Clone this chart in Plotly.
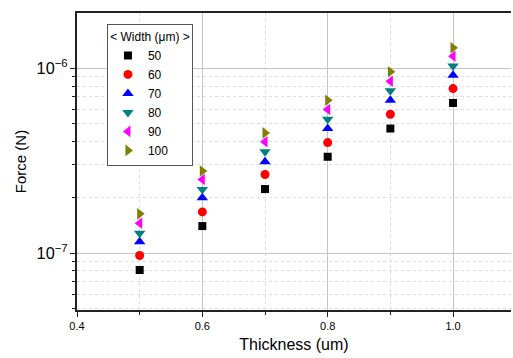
import plotly.graph_objects as go

thickness = [0.5, 0.6, 0.7, 0.8, 0.9, 1.0]
widths = ["50", "60", "70", "80", "90", "100"]
force_50 = [8.1e-8, 1.40e-7, 2.22e-7, 3.32e-7, 4.72e-7, 6.49e-7]
force_60 = [9.7e-8, 1.67e-7, 2.66e-7, 3.96e-7, 5.64e-7, 7.76e-7]
force_70 = [1.15e-7, 1.99e-7, 3.12e-7, 4.72e-7, 6.71e-7, 9.16e-7]
force_80 = [1.28e-7, 2.21e-7, 3.53e-7, 5.30e-7, 7.55e-7, 1.03e-6]
force_90 = [1.45e-7, 2.50e-7, 4.00e-7, 5.98e-7, 8.51e-7, 1.16e-6]
force_100 = [1.63e-7, 2.78e-7, 4.47e-7, 6.71e-7, 9.57e-7, 1.29e-6]

series = [force_50, force_60, force_70, force_80, force_90, force_100]
symbols = ["square", "circle", "triangle-up", "triangle-down", "triangle-left", "triangle-right"]
colors = ["#000000", "#FF0000", "#0000FF", "#008080", "#FF00FF", "#808000"]
sizes = [8, 9, 10, 10, 10, 10]

fig = go.Figure()
for name, ys, sym, col, sz in zip(widths, series, symbols, colors, sizes):
    fig.add_trace(go.Scatter(
        x=thickness, y=ys, mode="markers", name=name,
        marker=dict(symbol=sym, color=col, size=sz, line=dict(width=0)),
    ))

font = "Liberation Sans, Arial, sans-serif"
fig.update_layout(
    width=513, height=358,
    margin=dict(l=77, r=2, t=13, b=48),
    paper_bgcolor="white", plot_bgcolor="white",
    font=dict(family=font, color="black"),
    showlegend=True,
    legend=dict(
        x=0.069, y=0.962, xanchor="left", yanchor="top",
        bgcolor="white", bordercolor="#555555", borderwidth=1,
        font=dict(size=12, family=font),
        title=dict(text="< Width (μm) >", side="top center", font=dict(size=12, family=font)),
        tracegroupgap=0, itemsizing="trace",
    ),
    xaxis=dict(
        range=[0.4, 1.0925], tickvals=[0.4, 0.6, 0.8, 1.0], ticktext=["0.4", "0.6", "0.8", "1.0"],
        showline=True, linecolor="#222222", linewidth=1.5, mirror=True,
        ticks="outside", ticklen=5, tickcolor="#222222", tickwidth=1,
        showgrid=True, gridcolor="#c4c4c4", gridwidth=1,
        tickfont=dict(size=11),
        minor=dict(tickvals=[0.5, 0.7, 0.9], ticks="outside", ticklen=3, tickcolor="#222222",
                   showgrid=True, gridcolor="#dddddd", griddash="dot", gridwidth=1),
        title=dict(text="Thickness (um)", font=dict(size=16), standoff=8),
        zeroline=False,
    ),
    yaxis=dict(
        type="log", range=[-7.308, -5.701], dtick=1, exponentformat="power",
        showline=True, linecolor="#222222", linewidth=1.5, mirror=False,
        ticks="outside", ticklen=5, tickcolor="#222222", tickwidth=1,
        showgrid=True, gridcolor="#c4c4c4", gridwidth=1,
        tickfont=dict(size=13),
        minor=dict(ticks="outside", ticklen=3, tickcolor="#222222",
                   showgrid=True, gridcolor="#dddddd", griddash="dot", gridwidth=1),
        title=dict(text="Force (N)", font=dict(size=15), standoff=6),
        zeroline=False,
    ),
)

fig.write_html("out.html")
